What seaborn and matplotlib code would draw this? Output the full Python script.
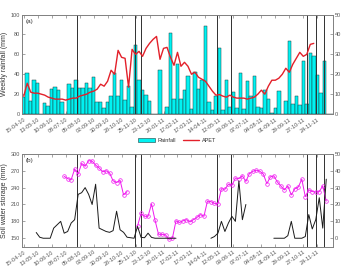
import numpy as np
import pandas as pd
import matplotlib
matplotlib.use("Agg")
import matplotlib.pyplot as plt
import seaborn as sns
from matplotlib.patches import Patch
from matplotlib.lines import Line2D

nan = np.nan

# weekly rainfall (mm), weeks starting 15-04-10
rainfall = [17, 41, 13, 34, 31, 0, 11, 8, 25, 27,
            24, 12, 0, 30, 26, 34, 26, 26, 31, 26,
            37, 12, 12, 6, 12, 18, 41, 18, 34, 14,
            28, 7, 69, 34, 24, 19, 13, 0, 0, 44,
            0, 7, 81, 15, 50, 15, 24, 38, 5, 42,
            25, 34, 88, 12, 4, 18, 66, 4, 34, 7,
            22, 6, 41, 5, 33, 18, 38, 7, 6, 24,
            15, 1, 6, 23, 0, 13, 73, 10, 18, 9,
            53, 10, 61, 58, 39, 21, 53, 0, 0]

# weekly APET (mm, right axis)
apet = [9, 15.5, 11, 10.5, 10.5, 10, 9.5, 8.5, 8, 7.5,
        7.5, 7.5, 7, 7.5, 8, 8, 9, 9.5, 10, 11,
        11.5, 12.5, 15, 14, 16.5, 22, 20, 32, 28.5, 28,
        13.5, 32.5, 30, 31.5, 29, 33, 35.5, 37.5, 39, 27.5,
        33, 33.5, 28.5, 24.5, 31, 24, 26, 24, 20, 21,
        18.5, 17.5, 16.5, 14, 11.5, 9.5, 9.8, 9, 8.5, 9.5,
        8.5, 8, 8, 8, 7.5, 8, 8.5, 10, 12, 10,
        14, 17, 17, 18, 20, 23, 21, 25, 28, 31,
        29, 30, 35, 35.5]

# soil water storage (mm, left axis), weekly from 19-04-10
swc = ([nan] * 11
       + [260, 256, 254, 273, 264, 283, 278, 288, 287, 280,
          275, 268, 270, 266, 252, 249, 253, 227, 233]
       + [nan] * 2
       + [172, 194, 189, 189, 211, 182, 157, 157, 156, 148,
          151, 181, 178, 181, 183, 179, 183, 187, 192, 189,
          216, 215, 212, 211, 238, 237, 246, 244, 257, 256,
          261, 251, 265, 269, 271, 269, 264, 247, 259, 261,
          250, 243, 236, 243, 227, 238, 241, 255, 224, 236,
          233, 232, 233, 243, 216]
       + [nan] * 2)

# second series on the right axis of panel (b)
drain = ([nan] * 3
         + [3.4, 0.6, 0, 0, 0, 6, 8, 10, 3, 4,
            9, 11, 26, 27, 30, 26, 20, 32, 6, 5,
            4, 3.5, 4.5, 16, 5, 3.5, 0.6, 0.3, 0, 7,
            0.5, 0.3, 3, 0.5, 0, 0, 0, 0, 0, 0, 0]
         + [nan] * 9
         + [0, 1, 3, 10, 4, 9, 13, 10, 34, 11, 20]
         + [nan] * 7
         + [0, 0, 0, 0, 1.5, 10, 0, 0, 0, 1, 14, 5.5, 11, 24, 6, 35]
         + [nan] * 2)

event_dates = ['2010-07-31', '2010-11-24', '2010-12-05', '2011-05-08',
               '2011-06-04', '2011-11-04', '2011-11-22', '2011-12-07']

week_dates = pd.date_range('2010-04-15', periods=len(rainfall), freq='7D')
swc_dates = pd.date_range('2010-04-19', periods=len(swc), freq='7D')
tick_dates = pd.date_range('2010-04-15', periods=22, freq='28D')
tick_labels = [d.strftime('%d-%m-%y') for d in tick_dates]

CYAN = '#00F2F2'
RED = '#E3202A'
MAGENTA = '#F019F0'
GREY = '#555555'

sns.set_theme(style="ticks")
plt.rcParams['font.family'] = ['Liberation Sans', 'DejaVu Sans']
plt.rcParams.update({
    'axes.edgecolor': '#808080',
    'axes.linewidth': 0.6,
    'text.color': '#333333',
    'axes.labelcolor': '#333333',
})


def draw_segments(ax, dates, values, **kw):
    """Line broken at missing values."""
    df = pd.DataFrame({'date': dates, 'val': values})
    df['seg'] = df['val'].isna().cumsum()
    df = df.dropna()
    sns.lineplot(data=df, x='date', y='val', units='seg', estimator=None,
                 sort=False, legend=False, ax=ax, **kw)


def style_axis(ax, right=False):
    ax.tick_params(axis='both', direction='in', length=2, width=0.5,
                   colors='#808080', labelcolor=GREY, labelsize=4, pad=1.5)
    if not right:
        ax.tick_params(axis='x', top=True, pad=2)
    for sp in ax.spines.values():
        sp.set_color('#808080')
        sp.set_linewidth(0.6)


x0 = pd.Timestamp('2010-04-15') - pd.Timedelta(days=3.5)
x1 = pd.Timestamp('2010-04-15') + pd.Timedelta(days=88.5 * 7)

fig = plt.figure(figsize=(3.41, 2.69), dpi=100)
ax1 = fig.add_axes([0.0645, 0.576, 0.912, 0.370])
ax2 = fig.add_axes([0.0645, 0.083, 0.912, 0.345])

# (a) rainfall + APET
ax1.bar(week_dates, rainfall, width=7, color=CYAN, edgecolor='#1d3d3d',
        linewidth=0.35, zorder=2)
for d in event_dates:
    ax1.axvline(pd.Timestamp(d), color='#303030', lw=0.7, zorder=3)
ax1.set_ylim(0, 100)
ax1.set_yticks(range(0, 101, 20))
ax1.set_xlim(x0, x1)
ax1.set_xticks(tick_dates)
ax1.set_xticklabels(tick_labels, rotation=35, ha='right', rotation_mode='anchor')
ax1.set_ylabel('Weekly rainfall (mm)', fontsize=5, labelpad=2)
ax1.set_xlabel('')
ax1.text(0.012, 0.93, '(a)', transform=ax1.transAxes, fontsize=4.5, va='center')
style_axis(ax1)

ax1r = ax1.twinx()
sns.lineplot(x=week_dates[:len(apet)], y=apet, ax=ax1r, color=RED, lw=1.0,
             legend=False)
ax1r.set_ylim(0, 50)
ax1r.set_yticks(range(0, 51, 10))
ax1r.set_ylabel('')
ax1r.set_xlim(x0, x1)
style_axis(ax1r, right=True)

# (b) soil water storage
for d in event_dates:
    ax2.axvline(pd.Timestamp(d), color='#303030', lw=0.7, zorder=1)
draw_segments(ax2, swc_dates, swc, color=MAGENTA, lw=0.7, marker='o',
              markersize=2.6, markerfacecolor='none',
              markeredgecolor=MAGENTA, markeredgewidth=0.5)
ax2.set_ylim(135, 300)
ax2.set_yticks(range(150, 301, 30))
ax2.set_xlim(x0, x1)
ax2.set_xticks(tick_dates)
ax2.set_xticklabels(tick_labels, rotation=35, ha='right', rotation_mode='anchor')
ax2.set_ylabel('Soil water storage (mm)', fontsize=5, labelpad=2)
ax2.set_xlabel('')
ax2.text(0.012, 0.93, '(b)', transform=ax2.transAxes, fontsize=4.5, va='center')
style_axis(ax2)

ax2r = ax2.twinx()
draw_segments(ax2r, swc_dates, drain, color='#1a1a1a', lw=0.7)
ax2r.set_ylim(-5, 50)
ax2r.set_yticks(range(0, 51, 10))
ax2r.set_ylabel('')
ax2r.set_xlabel('')
ax2r.set_xlim(x0, x1)
style_axis(ax2r, right=True)

handles = [Patch(facecolor=CYAN, edgecolor='#1d3d3d', linewidth=0.4, label='Rainfall'),
           Line2D([], [], color=RED, lw=1.0, label='APET')]
fig.legend(handles=handles, loc='center', bbox_to_anchor=(0.52, 0.478), ncol=2,
           frameon=False, fontsize=4, handlelength=3, handleheight=0.9,
           columnspacing=1.2, handletextpad=0.5)

fig.savefig('out.png', dpi=100)
plt.close(fig)
